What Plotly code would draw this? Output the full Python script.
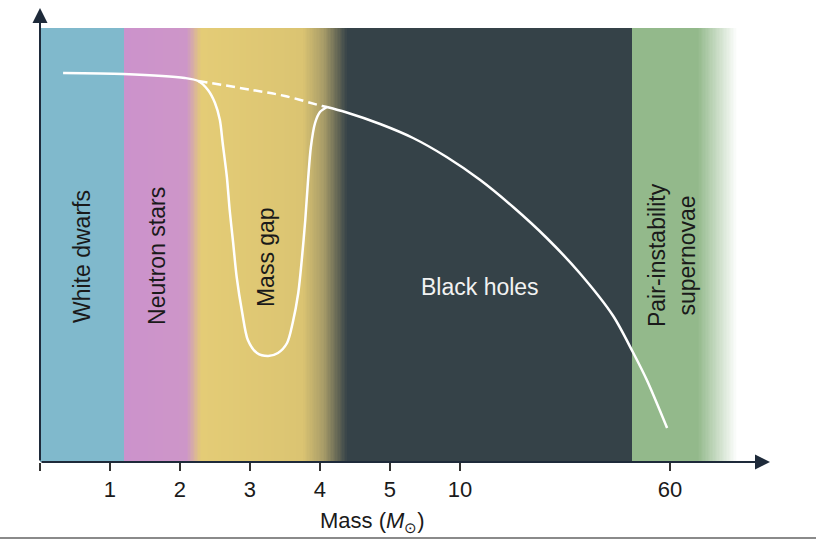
import numpy as np
import plotly.graph_objects as go

# ---- data (x in axis-slot units; ticks label the non-linear mass scale) ----
tick_slots = [0, 1, 2, 3, 4, 5, 6, 9]
tick_labels = ["", "1", "2", "3", "4", "5", "10", "60"]

# number-density curve (arbitrary units): low-mass part through the gap, up to the peak
low_x = [0.33, 1.19, 2.07, 2.26, 2.4, 2.5, 2.57, 2.61, 2.67, 2.71, 2.76, 2.81, 2.89,
         2.97, 3.1, 3.26, 3.4, 3.53, 3.61, 3.69, 3.74, 3.79, 3.83, 3.87, 3.93,
         4.0, 4.1]
low_y = [389, 388, 384, 381, 372, 359, 342, 319, 285, 252, 219, 185, 149,
         122, 109, 106, 109, 119, 139, 169, 202, 242, 282, 315, 339,
         350, 355]
# black-hole part, from the peak down to the pair-instability cut-off
high_x = [4.1, 4.36, 4.86, 5.33, 5.81, 6.29, 6.76, 7.24, 7.71, 8.19, 8.47, 8.67, 8.96]
high_y = [355, 350, 338, 324, 305, 282, 255, 224, 189, 146, 110, 82, 34]

# dashed continuation across the mass gap
dash_x = [2.26, 3.03, 3.5, 4.03, 4.1]
dash_y = [381, 372, 366, 356, 355]

# background regions: colour stops (slot position, colour)
band_pos = [0.0, 1.19, 1.1901, 2.1, 2.3, 3.75, 4.05, 4.39, 8.46, 8.4601, 9.4, 9.96]
band_col = ["#80B9CC", "#80B9CC", "#CC92CC", "#CD96C8", "#E4CC76", "#DBC472",
            "#A89C68", "#354248", "#354248", "#93B98B", "#93B98B", "#FFFFFF"]
band_top = 434

region_labels = ["White dwarfs", "Neutron stars", "Mass gap", "Black holes",
                 "Pair-instability<br>supernovae"]
region_x = [0.6, 1.67, 3.23, 6.28, 9.03]
region_y = [206, 206, 205, 175, 207]
region_angle = [-90, -90, -90, 0, -90]
region_color = ["#1a1a1a", "#1a1a1a", "#1a1a1a", "#F2F2F2", "#1a1a1a"]

# ---- build figure ----
fig = go.Figure()

xmax = band_pos[-1]
edges = np.linspace(0, xmax, 499)
centers = (edges[:-1] + edges[1:]) / 2
cscale = [[p / xmax, c] for p, c in zip(band_pos, band_col)]
fig.add_trace(go.Heatmap(
    x=edges, y=[0, band_top], z=[centers], zmin=0, zmax=xmax,
    colorscale=cscale, showscale=False, hoverinfo="skip"))

fig.add_trace(go.Scatter(x=dash_x, y=dash_y, mode="lines",
                         line=dict(color="white", width=2.5, dash="9px,5px", shape="spline"),
                         hoverinfo="skip"))
for xs, ys in ((low_x, low_y), (high_x, high_y)):
    fig.add_trace(go.Scatter(x=xs, y=ys, mode="lines",
                             line=dict(color="white", width=2.5, shape="spline", smoothing=0.8),
                             hoverinfo="skip"))

font = "Liberation Sans, Arial, sans-serif"
for t, x, y, a, c in zip(region_labels, region_x, region_y, region_angle, region_color):
    fig.add_annotation(x=x, y=y, text=t, showarrow=False, textangle=a,
                       font=dict(family=font, size=23, color=c))

axis_col = "#1E2A3A"
# axis arrows
fig.add_annotation(x=10.43, y=0, ax=0, ay=0, xref="x", yref="y", axref="x", ayref="y",
                   showarrow=True, arrowhead=2, arrowsize=1.5, arrowwidth=2,
                   arrowcolor=axis_col, text="")
fig.add_annotation(x=0, y=454, ax=0, ay=0, xref="x", yref="y", axref="x", ayref="y",
                   showarrow=True, arrowhead=2, arrowsize=1.5, arrowwidth=2,
                   arrowcolor=axis_col, text="")

# axis titles
fig.add_annotation(x=-0.31, y=207, xref="x", yref="y", text="Number density",
                   textangle=-90, showarrow=False,
                   font=dict(family=font, size=23, color="#1a1a1a"))
fig.add_annotation(x=0.456, y=-0.132, xref="paper", yref="paper", yanchor="middle",
                   text="Mass (<i>M</i><sub>⊙</sub>)", showarrow=False,
                   font=dict(family=font, size=22, color="#1a1a1a"))

# bottom border line
fig.add_shape(type="line", xref="paper", yref="paper", x0=-0.06, x1=1.07,
              y0=-0.1675, y1=-0.1675, line=dict(color="#8a8a8a", width=2))

fig.update_layout(
    width=816, height=540,
    margin=dict(l=40, r=46, t=8, b=78),
    plot_bgcolor="white", paper_bgcolor="white",
    showlegend=False,
    xaxis=dict(range=[0, 10.43], showgrid=False, zeroline=False, showline=False,
               tickmode="array", tickvals=tick_slots, ticktext=tick_labels,
               ticks="outside", ticklen=8, tickwidth=1.5, tickcolor="#333",
               tickfont=dict(family=font, size=22, color="#1a1a1a"), fixedrange=True),
    yaxis=dict(range=[0, 454], visible=False, fixedrange=True),
)

fig.write_html("out.html")
